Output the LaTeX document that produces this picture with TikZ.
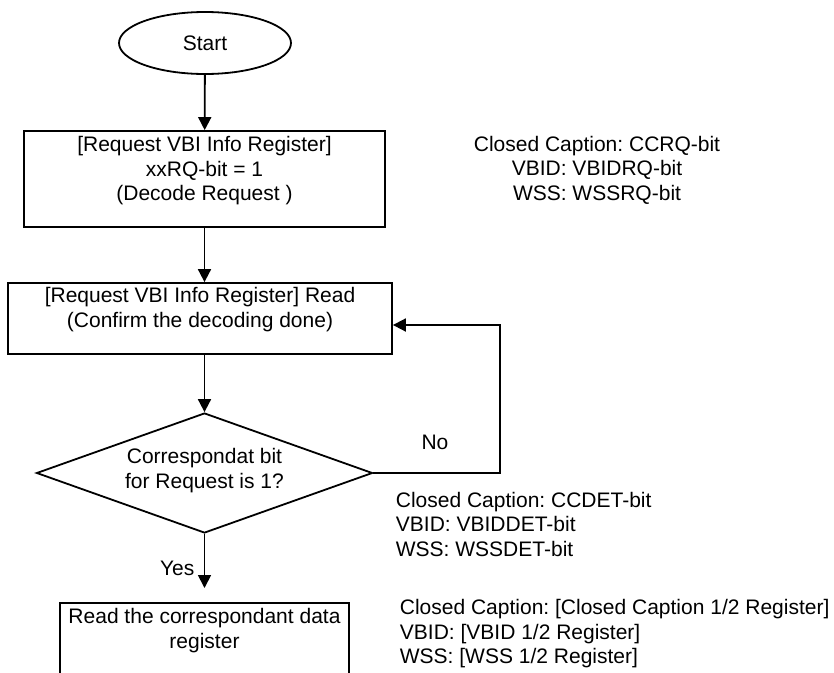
\documentclass[tikz,border=0pt]{standalone}
\usepackage{fontspec}
\setmainfont{Liberation Sans}
\usetikzlibrary{shapes.geometric,arrows.meta}
\frenchspacing

\begin{document}
\begin{tikzpicture}[x=1pt,y=-1pt,font=\fontsize{21}{24.5}\selectfont,line width=1.8pt,
  >={Triangle[length=13pt,width=13pt]},
  box/.style={draw,rectangle,inner sep=0pt},
  txt/.style={align=center,inner sep=0pt}]

\useasboundingbox (0,0) rectangle (834,672);
\clip (0,0) rectangle (834,672);

% shapes
\node[draw,ellipse,minimum width=172,minimum height=62,inner sep=0pt] (start) at (205,43) {Start};
\node[box,minimum width=361,minimum height=96] (req) at (204.5,179) {};
\node[box,minimum width=384,minimum height=71] (read) at (200,318.5) {};
\node[draw,diamond,minimum width=336,minimum height=120,inner sep=0pt] (check) at (204.5,473) {};
\node[box,minimum width=289,minimum height=96] (data) at (204.5,651) {};

% texts
\node[txt] (reqtext) at (204.5,171) {[Request VBI Info Register]\\xxRQ-bit = 1\\(Decode Request )};
\node[txt] (readtext) at (200,309.5) {[Request VBI Info Register] Read\\(Confirm the decoding done)};
\node[txt] (checktext) at (204.5,470.5) {Correspondat bit\\for Request is 1?};
\node[txt] (datatext) at (204.5,630.5) {Read the correspondant data\\register};

% notes
\node[txt] (rqnote) at (597,170) {Closed Caption: CCRQ-bit\\VBID: VBIDRQ-bit\\WSS: WSSRQ-bit};
\node[txt,align=left,anchor=west] (detnote) at (395,524) {Closed Caption: CCDET-bit\\VBID: VBIDDET-bit\\WSS: WSSDET-bit};
\node[txt,align=left,anchor=west] (regnote) at (399,634) {Closed Caption: [Closed Caption 1/2 Register]\\VBID: [VBID 1/2 Register]\\WSS: [WSS 1/2 Register]};

% connectors
\coordinate (yesend) at (204.5,588);
\coordinate (noturn) at (500,325);
\draw[->] (start) -- (req);
\draw[->] (req) -- (req |- read.north);
\draw[->] (read.south -| check) -- (check);
\draw[->] (check) -- node[pos=0.64,left=6pt] {Yes} (yesend);
\draw[->] (check.east) -| (noturn) -- (noturn -| read.east);
\node (nolabel) at (435,442) {No};

\end{tikzpicture}
\end{document}
